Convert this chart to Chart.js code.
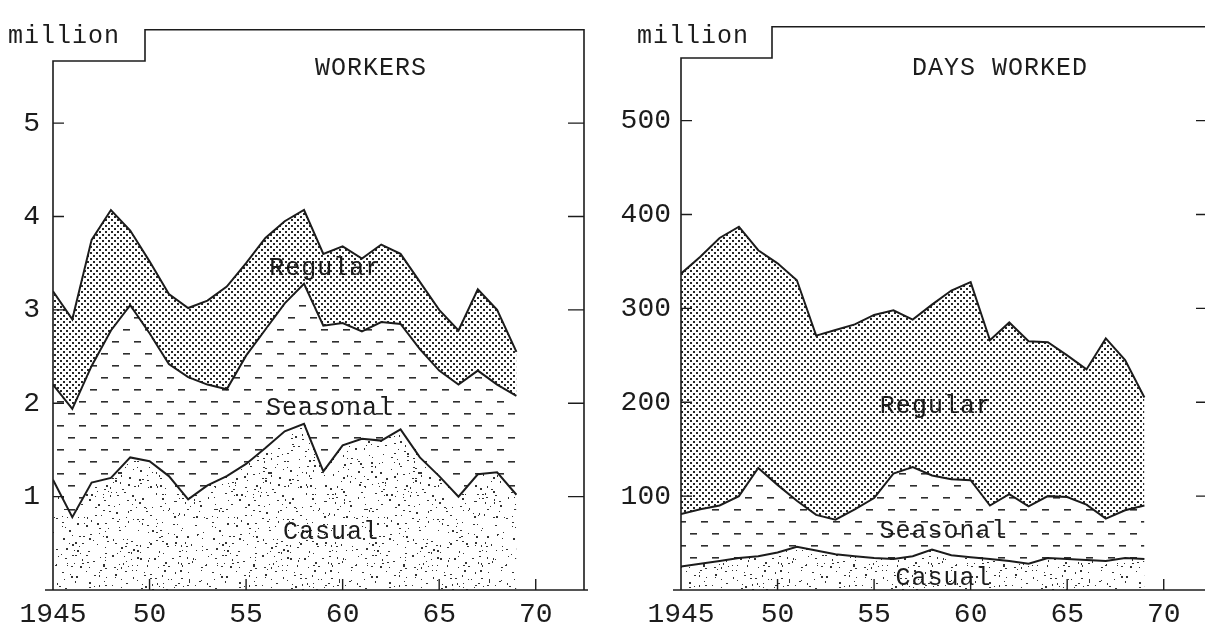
<!DOCTYPE html>
<html lang="en">
<head>
<meta charset="UTF-8">
<title>Workers and days worked, 1945-69</title>
<script src="https://cdn.jsdelivr.net/npm/chart.js@4"></script>
<style>
  html, body { margin: 0; padding: 0; background: #fff; overflow: hidden; }
  body { width: 1205px; height: 630px; position: relative; }
  canvas { position: absolute; top: 0; }
  #workers { left: 0; }
  #days { left: 600px; }
</style>
</head>
<body>
<canvas id="workers" width="600" height="630"></canvas>
<canvas id="days" width="620" height="630"></canvas>
<script>
// years plotted (one point per year)
const years = [1945, 1946, 1947, 1948, 1949, 1950, 1951, 1952, 1953, 1954, 1955, 1956,
  1957, 1958, 1959, 1960, 1961, 1962, 1963, 1964, 1965, 1966, 1967, 1968, 1969];

// WORKERS, million - layer thickness, stacked bottom to top
const workersCasual = [1.18, 0.78, 1.15, 1.2, 1.42, 1.38, 1.22, 0.97, 1.12, 1.22, 1.35, 1.52,
  1.7, 1.78, 1.27, 1.55, 1.62, 1.6, 1.72, 1.42, 1.22, 1.0, 1.24, 1.26, 1.02];
const workersSeasonal = [1.02, 1.16, 1.25, 1.58, 1.63, 1.37, 1.2, 1.31, 1.08, 0.93, 1.16, 1.27,
  1.37, 1.5, 1.56, 1.31, 1.15, 1.27, 1.13, 1.16, 1.13, 1.2, 1.11, 0.94, 1.06];
const workersRegular = [1.0, 0.96, 1.35, 1.29, 0.8, 0.77, 0.75, 0.74, 0.9, 1.1, 0.99, 0.98,
  0.88, 0.79, 0.77, 0.82, 0.78, 0.83, 0.75, 0.72, 0.65, 0.58, 0.87, 0.8, 0.47];

// DAYS WORKED, million - layer thickness, stacked bottom to top
const daysCasual = [25, 28, 31, 34, 36, 40, 46, 42, 38, 36, 34, 33,
  36, 43, 37, 35, 33, 31, 28, 34, 33, 32, 31, 34, 33];
const daysSeasonal = [56, 58, 59, 66, 94, 72, 49, 38, 37, 50, 64, 91,
  95, 79, 81, 82, 57, 71, 61, 66, 66, 59, 45, 51, 57];
const daysRegular = [256, 269, 285, 287, 232, 236, 235, 191, 202, 197, 195, 174,
  157, 182, 201, 211, 176, 183, 176, 164, 151, 144, 192, 160, 115];

// tick labels
const xTicks = [1945, 1950, 1955, 1960, 1965, 1970];
const workersTicks = [1, 2, 3, 4, 5];
const daysTicks = [100, 200, 300, 400, 500];
const layerNames = ['Casual', 'Seasonal', 'Regular'];

const FONT = "'Liberation Mono', 'DejaVu Sans Mono', monospace";
const INK = '#1c1c1c';

// texture tiles (fixed seed so every run looks the same)
function rng(seed) {
  let s = seed;
  return () => (s = (s * 16807) % 2147483647) / 2147483647;
}

function makePattern(kind) {
  const c = document.createElement('canvas');
  const g = c.getContext('2d');
  if (kind === 'Regular') {
    c.width = 6; c.height = 6;
    g.fillStyle = '#fff'; g.fillRect(0, 0, 6, 6);
    g.fillStyle = '#262626';
    g.fillRect(0, 0, 2, 2);
    g.fillRect(3, 3, 2, 2);
  } else if (kind === 'Seasonal') {
    c.width = 22; c.height = 24;
    g.fillStyle = '#fff'; g.fillRect(0, 0, 22, 24);
    g.fillStyle = '#2e2e2e';
    g.fillRect(2, 5, 7, 1.6);
    g.fillRect(13, 17, 7, 1.6);
  } else {
    const n = 150;
    c.width = n; c.height = n;
    g.fillStyle = '#fff'; g.fillRect(0, 0, n, n);
    const r = rng(11);
    g.fillStyle = '#333';
    // jittered grid keeps the specks evenly spread
    for (let gx = 0; gx < n; gx += 5) {
      for (let gy = 0; gy < n; gy += 5) {
        if (r() < 0.45) continue;
        g.fillRect(gx + Math.floor(r() * 5), gy + Math.floor(r() * 5), 1 + Math.round(r()), 1 + Math.round(r() * 0.7));
      }
    }
  }
  return c.getContext('2d').createPattern(c, 'repeat');
}

const panelDecor = {
  id: 'panelDecor',
  afterDraw(chart, args, o) {
    const { ctx, chartArea: a, scales: { x, y } } = chart;
    ctx.save();
    ctx.strokeStyle = INK;
    ctx.lineWidth = 1.6;
    // stepped frame
    ctx.beginPath();
    ctx.moveTo(a.left, a.bottom);
    ctx.lineTo(a.left, o.stepY);
    ctx.lineTo(o.stepX, o.stepY);
    ctx.lineTo(o.stepX, a.top);
    ctx.lineTo(a.right, a.top);
    ctx.lineTo(a.right, a.bottom);
    ctx.stroke();
    ctx.beginPath();
    ctx.moveTo(a.left - 8, a.bottom);
    ctx.lineTo(a.right + 4, a.bottom);
    ctx.stroke();
    // inward tick marks
    ctx.lineWidth = 1.4;
    o.yTicks.forEach(v => {
      const py = y.getPixelForValue(v);
      ctx.beginPath();
      ctx.moveTo(a.left, py); ctx.lineTo(a.left + 11, py);
      ctx.moveTo(a.right - 16, py); ctx.lineTo(a.right, py);
      ctx.stroke();
    });
    xTicks.slice(1).forEach(v => {
      const px = x.getPixelForValue(v);
      ctx.beginPath();
      ctx.moveTo(px, a.bottom); ctx.lineTo(px, a.bottom - 11);
      ctx.stroke();
    });
    // texts
    ctx.fillStyle = INK;
    ctx.font = '25px ' + FONT;
    ctx.letterSpacing = '1px';
    ctx.textBaseline = 'alphabetic';
    ctx.textAlign = 'left';
    ctx.fillText('million', o.unitX, 43);
    ctx.textAlign = 'center';
    ctx.textBaseline = 'middle';
    ctx.fillText(o.title, o.titleX, 68);
    o.layerLabels.forEach((p, i) => {
      ctx.fillText(layerNames[i], x.getPixelForValue(p[0]), y.getPixelForValue(p[1]));
    });
    ctx.restore();
  }
};

function buildChart(id, series, yMax, yTicks, yPad, leftW, rightPad, decor) {
  const fills = ['origin', '-1', '-1'];
  return new Chart(document.getElementById(id), {
    type: 'line',
    data: {
      datasets: series.map((s, i) => ({
        label: layerNames[i],
        data: years.map((yr, k) => ({ x: yr, y: s[k] })),
        borderColor: INK,
        borderWidth: 2,
        backgroundColor: makePattern(layerNames[i]),
        fill: fills[i],
        pointRadius: 0,
        tension: 0
      }))
    },
    options: {
      responsive: false,
      animation: false,
      layout: { padding: { top: 10, right: rightPad, left: 0, bottom: 0 } },
      plugins: { legend: { display: false }, tooltip: { enabled: false }, panelDecor: decor },
      scales: {
        x: {
          type: 'linear', min: 1945, max: 1972.5,
          afterBuildTicks: s => { s.ticks = xTicks.map(v => ({ value: v })); },
          afterFit: s => { s.height = 40; },
          grid: { display: false, drawTicks: false },
          border: { display: false },
          ticks: {
            padding: 8, color: INK, maxRotation: 0,
            font: { family: FONT, size: 28 },
            callback: v => v === 1945 ? '1945' : String(v).slice(2)
          }
        },
        y: {
          stacked: true, min: 0, max: yMax,
          afterBuildTicks: s => { s.ticks = yTicks.map(v => ({ value: v })); },
          afterFit: s => { s.width = leftW; },
          grid: { display: false, drawTicks: false },
          border: { display: false },
          ticks: { padding: yPad, color: INK, font: { family: FONT, size: 28 } }
        }
      }
    },
    plugins: [panelDecor]
  });
}

buildChart('workers', [workersCasual, workersSeasonal, workersRegular], 6, workersTicks, 13, 53, 16, {
  stepX: 145, stepY: 61, unitX: 8, title: 'WORKERS', titleX: 371,
  yTicks: workersTicks,
  layerLabels: [[1959.4, 0.62], [1959.35, 1.94], [1959.1, 3.45]]
});

buildChart('days', [daysCasual, daysSeasonal, daysRegular], 600, daysTicks, 10, 81, 8, {
  stepX: 172, stepY: 58, unitX: 37, title: 'DAYS WORKED', titleX: 400,
  yTicks: daysTicks,
  layerLabels: [[1958.6, 12.4], [1958.6, 62], [1958.2, 195.5]]
});
</script>
</body>
</html>
